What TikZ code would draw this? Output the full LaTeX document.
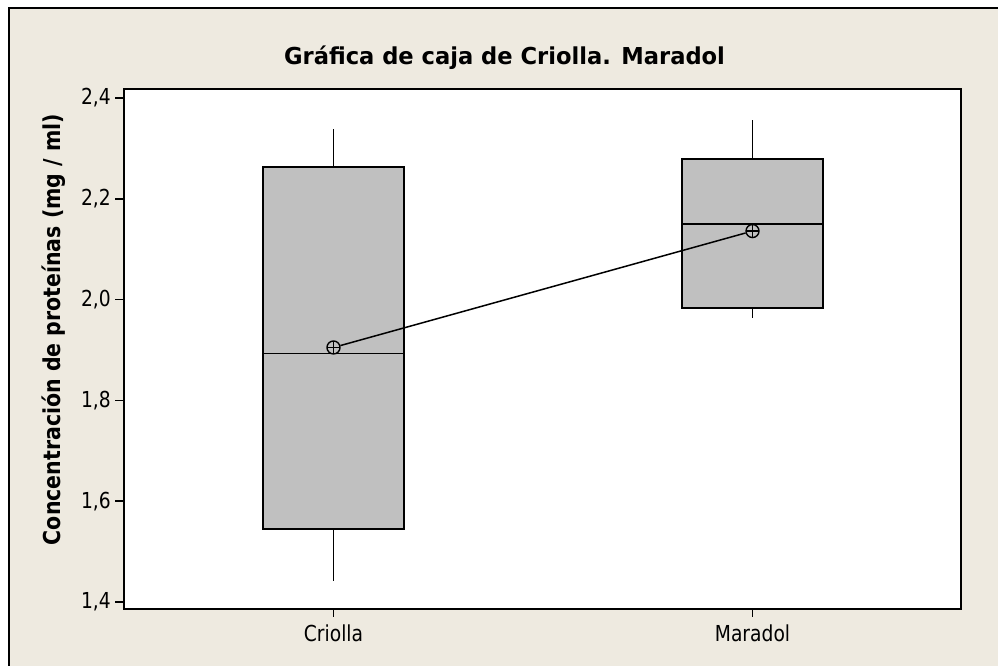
\documentclass[tikz,border=0pt]{standalone}
\usepackage{fontspec}
\setmainfont{DejaVu Sans}[FakeStretch=0.85]
\newfontfamily\ylabfont{DejaVu Sans}[FakeStretch=0.88]
\newfontfamily\titlefont{DejaVu Sans}[FakeStretch=0.97]
\definecolor{figbg}{RGB}{238,234,224}
\definecolor{boxgray}{RGB}{192,192,192}
\begin{document}
\begin{tikzpicture}[x=1pt,y=-1pt,
  every node/.style={inner sep=0pt},
  ticklab/.style={font=\fontsize{22}{26}\selectfont},
  titlelab/.style={font=\titlefont\bfseries\fontsize{23.3}{28}\selectfont},
  ylab/.style={font=\ylabfont\bfseries\fontsize{23.3}{28}\selectfont},
  boxpart/.style={draw,fill=boxgray,line width=1.7pt},
  whisk/.style={line width=1.5pt},
  meanpt/.style={circle,draw,line width=1.4pt,minimum size=13pt,
    path picture={\draw[line width=1.3pt]
      (path picture bounding box.north) -- (path picture bounding box.south)
      (path picture bounding box.west) -- (path picture bounding box.east);}}]
\useasboundingbox (0,0) rectangle (998,666);
\clip (0,0) rectangle (998,666);
\fill[white] (0,0) rectangle (998,666);
% frame and plot area
\draw[fill=figbg,line width=1.8pt] (9,8) rectangle (1010,680);
\draw[fill=white,line width=1.8pt] (124,89) rectangle (961,609);
\node[titlelab,anchor=base] (title) at (504.5,65) {Gráfica de caja de Criolla. Maradol};
\node[ylab,rotate=90,anchor=base] (ylabel) at (60,329.5) {Concentración de proteínas (mg / ml)};
% x axis
\draw[line width=1.5pt] (333.5,609) -- (333.5,617) (752.5,609) -- (752.5,617);
\node[ticklab,anchor=base] (xcri) at (333.5,641) {Criolla};
\node[ticklab,anchor=base] (xmar) at (752.5,641) {Maradol};
% data, y in mg/ml
\begin{scope}[y=504pt,yshift=-1307.6pt]
\foreach \v/\lab in {1.4/{1,4},1.6/{1,6},1.8/{1,8},2.0/{2,0},2.2/{2,2},2.4/{2,4}}{
  \draw[line width=1.5pt] (115,\v) -- (124,\v);
  \node[ticklab,anchor=east] at (111,\v) {\lab};
}
% Criolla
\draw[whisk] (333.5,2.263) -- (333.5,2.338) (333.5,1.545) -- (333.5,1.442);
\draw[boxpart] (263,1.545) rectangle (404,2.263);
\draw[whisk] (263,1.893) -- (404,1.893);
% Maradol
\draw[whisk] (752.5,2.279) -- (752.5,2.356) (752.5,1.983) -- (752.5,1.963);
\draw[boxpart] (682,1.983) rectangle (823,2.279);
\draw[whisk] (682,2.150) -- (823,2.150);
% means
\node[meanpt] (mcri) at (333.5,1.905) {};
\node[meanpt] (mmar) at (752.5,2.136) {};
\draw[line width=1.5pt] (mcri) -- (mmar);
\end{scope}
\end{tikzpicture}
\end{document}
